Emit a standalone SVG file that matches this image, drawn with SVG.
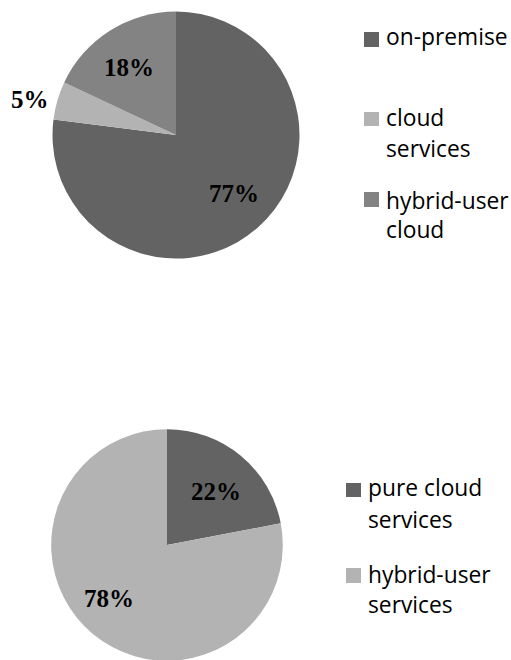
<svg xmlns="http://www.w3.org/2000/svg" width="511" height="660" viewBox="0 0 511 660">
<style>
.dark{fill:#636363}
.mid{fill:#838383}
.light{fill:#b3b3b3}
.pct{font-family:"Liberation Serif","Times New Roman",serif;font-weight:bold;font-size:25px;fill:#000}
.leg{font-family:"Open Sans","Liberation Sans",sans-serif;font-size:22.8px;fill:#000}
</style>
<rect width="511" height="660" fill="#fff"/>
<g id="chart1">
  <g id="slice-on-premise">
    <path class="dark" d="M176,135 L176,11.5 A123.5,123.5 0 1 1 53.49,119.39 Z"/>
    <text class="pct" x="209" y="202">77%</text>
  </g>
  <g id="slice-cloud-services">
    <path class="light" d="M176,135 L53.49,119.39 A123.5,123.5 0 0 1 64.17,82.42 Z"/>
    <text class="pct" x="11" y="108">5%</text>
  </g>
  <g id="slice-hybrid-user-cloud">
    <path class="mid" d="M176,135 L64.17,82.42 A123.5,123.5 0 0 1 176,11.5 Z"/>
    <text class="pct" x="104" y="76">18%</text>
  </g>
  <g id="legend1">
    <rect class="dark" x="364" y="32" width="15" height="15"/>
    <text class="leg" x="386" y="45">on-premise</text>
    <rect class="light" x="364" y="112" width="15" height="14"/>
    <text class="leg" x="386" y="126">cloud</text>
    <text class="leg" x="386" y="157">services</text>
    <rect class="mid" x="364" y="192" width="15" height="15"/>
    <text class="leg" x="386" y="209">hybrid-user</text>
    <text class="leg" x="386" y="238">cloud</text>
  </g>
</g>
<g id="chart2">
  <g id="slice-pure-cloud">
    <path class="dark" d="M167,545 L167,429.2 A115.8,115.8 0 0 1 280.74,523.28 Z"/>
    <text class="pct" x="191" y="500">22%</text>
  </g>
  <g id="slice-hybrid-user-services">
    <path class="light" d="M167,545 L280.74,523.28 A115.8,115.8 0 1 1 167,429.2 Z"/>
    <text class="pct" x="84" y="607">78%</text>
  </g>
  <g id="legend2">
    <rect class="dark" x="346" y="483" width="15" height="14"/>
    <text class="leg" x="368" y="496">pure cloud</text>
    <text class="leg" x="368" y="528">services</text>
    <rect class="light" x="346" y="568" width="15" height="15"/>
    <text class="leg" x="368" y="583">hybrid-user</text>
    <text class="leg" x="368" y="613">services</text>
  </g>
</g>
<g id="connectors"/>
</svg>
